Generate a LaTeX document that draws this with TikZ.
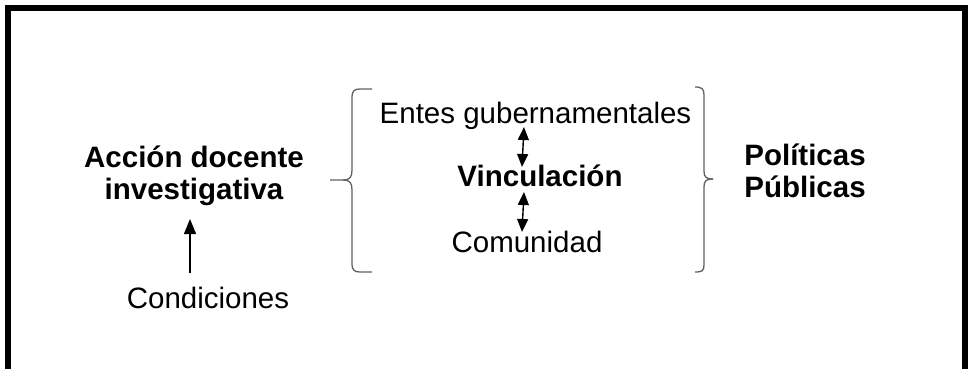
\documentclass[tikz,border=0pt]{standalone}
\usepackage{fontspec}
\setmainfont{Liberation Sans}
\usetikzlibrary{arrows.meta}
\begin{document}
\begin{tikzpicture}[x=1pt,y=-1pt,
  txt/.style={anchor=base,inner sep=0pt,font=\fontsize{29.5pt}{33pt}\selectfont},
  bold/.style={txt,font=\fontsize{29.5pt}{33pt}\selectfont\bfseries},
  brace/.style={draw=black!62,line width=1.3pt},
  arr/.style={line width=1.4pt,-{Triangle[length=15pt,width=12pt]}},
  darr/.style={line width=1.4pt,{Triangle[length=13pt,width=11pt]}-{Triangle[length=13pt,width=11pt]}}]
\useasboundingbox (0,0) rectangle (968,369);
\clip (0,0) rectangle (968,369);
\fill[white] (0,0) rectangle (968,369);
\draw[line width=6pt] (8,8) rectangle (965,371.5);
% texts
\node[bold] (acc) at (194,167) {Acción docente};
\node[bold] (inv) at (194,199) {investigativa};
\node[txt] (cond) at (208,308) {Condiciones};
\node[txt] (entes) at (535.5,123) {Entes gubernamentales};
\node[bold] (vinc) at (540,186) {Vinculación};
\node[txt] (com) at (527,252) {Comunidad};
\node[bold] (pol) at (805,165) {Políticas};
\node[bold] (pub) at (805,197) {Públicas};
% arrows
\coordinate (c1) at (190,273);
\coordinate (c2) at (190,219);
\draw[arr] (c1) -- (c2);
\coordinate (d1) at (524,127);
\coordinate (d2) at (522,167);
\coordinate (d3) at (524,192);
\coordinate (d4) at (522,232);
\draw[darr] (d1) -- (d2);
\draw[darr] (d3) -- (d4);
% left brace
\draw[brace] (372,89) -- (360,89) .. controls (354,89) and (352,91) .. (352,98)
  -- (352,170) .. controls (352,177) and (350,180) .. (343,180) -- (330,180);
\draw[brace] (343,180) .. controls (350,180) and (352,183) .. (352,190)
  -- (352,263) .. controls (352,270) and (354,272) .. (360,272) -- (372,272);
% right brace
\draw[brace] (695,87) .. controls (702,87) and (704,89) .. (704,95)
  -- (704,171) .. controls (704,177) and (706,179) .. (713,179);
\draw[brace] (713,179) .. controls (706,179) and (704,181) .. (704,187)
  -- (704,265) .. controls (704,271) and (702,272) .. (695,272);
\end{tikzpicture}
\end{document}
